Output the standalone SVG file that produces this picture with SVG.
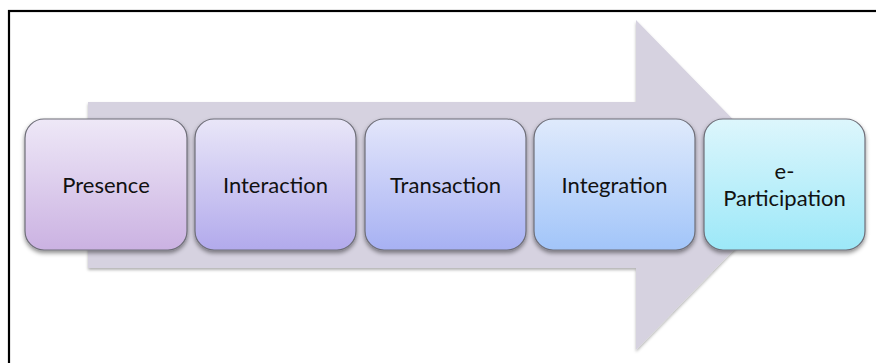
<svg xmlns="http://www.w3.org/2000/svg" width="876" height="363" viewBox="0 0 876 363">
  <style>
    .box { stroke: #6e6e78; stroke-width: 1.2; filter: url(#shadow); }
    .label { font-family: Lato, "Open Sans", "Liberation Sans", sans-serif; font-size: 22px; fill: #111; text-anchor: middle; }
  </style>
  <defs>
    <filter id="shadow" x="-10%" y="-10%" width="120%" height="130%">
      <feDropShadow dx="0" dy="2.5" stdDeviation="2" flood-color="#000" flood-opacity="0.45"/>
    </filter>
    <filter id="ashadow" x="-5%" y="-5%" width="110%" height="115%">
      <feDropShadow dx="0" dy="2" stdDeviation="1.5" flood-color="#000" flood-opacity="0.3"/>
    </filter>
    <linearGradient id="g1" x1="0" y1="0" x2="0" y2="1"><stop offset="0" stop-color="#eee8f7"/><stop offset="1" stop-color="#cbb2e2"/></linearGradient>
    <linearGradient id="g2" x1="0" y1="0" x2="0" y2="1"><stop offset="0" stop-color="#e9e6f8"/><stop offset="1" stop-color="#b2aaec"/></linearGradient>
    <linearGradient id="g3" x1="0" y1="0" x2="0" y2="1"><stop offset="0" stop-color="#e3e6fb"/><stop offset="1" stop-color="#a7b1f3"/></linearGradient>
    <linearGradient id="g4" x1="0" y1="0" x2="0" y2="1"><stop offset="0" stop-color="#dfeafc"/><stop offset="1" stop-color="#a2c5f9"/></linearGradient>
    <linearGradient id="g5" x1="0" y1="0" x2="0" y2="1"><stop offset="0" stop-color="#ddf6fc"/><stop offset="1" stop-color="#9ce8f8"/></linearGradient>
  </defs>
  <rect x="9" y="11" width="900" height="420" fill="#fff" stroke="#000" stroke-width="2.2"/>
  <g id="arrow">
    <polygon points="88,102 636,102 636,20 797,185 636,350 636,268 88,268" fill="#d6d2e0" filter="url(#ashadow)"/>
  </g>
  <g id="presence">
    <rect class="box" x="25" y="119" width="162" height="131" rx="19" fill="url(#g1)"/>
    <text class="label" x="106" y="193">Presence</text>
  </g>
  <g id="interaction">
    <rect class="box" x="195" y="119" width="161" height="131" rx="19" fill="url(#g2)"/>
    <text class="label" x="275.5" y="193">Interaction</text>
  </g>
  <g id="transaction">
    <rect class="box" x="365" y="119" width="161" height="131" rx="19" fill="url(#g3)"/>
    <text class="label" x="445.5" y="193">Transaction</text>
  </g>
  <g id="integration">
    <rect class="box" x="534" y="119" width="161" height="131" rx="19" fill="url(#g4)"/>
    <text class="label" x="614.5" y="193">Integration</text>
  </g>
  <g id="e-participation">
    <rect class="box" x="704" y="119" width="161" height="131" rx="19" fill="url(#g5)"/>
    <text class="label" x="784.5" y="179">e-</text>
    <text class="label" x="784.5" y="206">Participation</text>
  </g>
  <g id="connectors"></g>
</svg>
